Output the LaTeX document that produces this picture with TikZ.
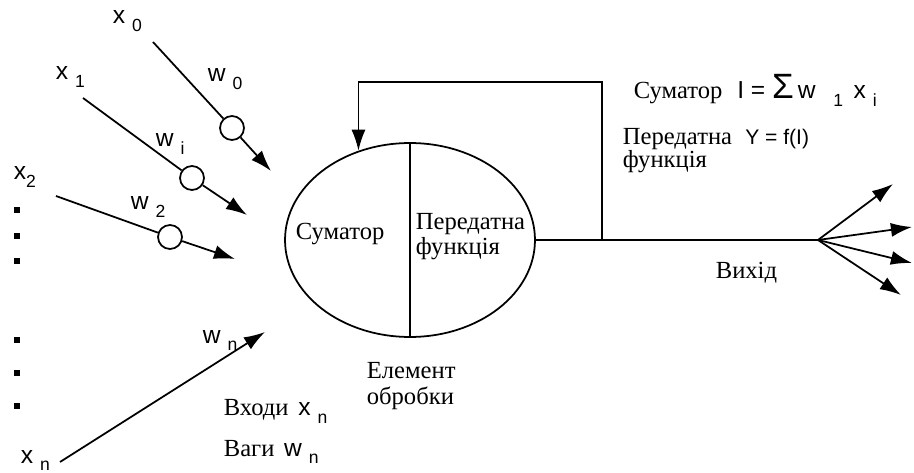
\documentclass[tikz,border=0pt]{standalone}
\usepackage{fontspec}
\setmainfont{Liberation Serif}
\newfontfamily\lblfont{Liberation Sans}
\usetikzlibrary{arrows.meta,shapes.geometric,positioning}
% index label: letter with a dropped index
\newcommand{\idx}[2]{#1\hspace{4pt}\raisebox{-4.5pt}{\fontsize{10}{10}\selectfont #2}}
\tikzset{
  basic/.style  = {inner sep=0pt, anchor=base west},
  word/.style   = {basic, font=\fontsize{14}{16}\selectfont},
  lbl/.style    = {basic, font=\lblfont\fontsize{14}{16}\selectfont},
  weight/.style = {draw, circle, fill=white, line width=1pt, minimum size=0.48cm, inner sep=0pt},
  unit/.style   = {draw, ellipse, line width=1pt, minimum width=5cm, minimum height=3.88cm},
  dotsq/.style  = {fill, rectangle, minimum size=0.11cm, inner sep=0pt}
}

\begin{document}
\begin{tikzpicture}[x=0.02cm, y=-0.02cm, line width=1pt,
  >={Latex[length=12pt,width=8pt]}]
\useasboundingbox (0,0) rectangle (914,473);

% processing element
\node[unit] (pe) at (410,240) {};
\draw (pe.north) -- (pe.south);
\node[word] (sum) at (295,240) {Суматор};
\node[word] (tf1) at (415,230) {Передатна};
\node[word] (tf2) at (415,255) {функція};
\node[word] (el1) at (366,378) {Елемент};
\node[word] (el2) at (366,404) {обробки};

% inputs and weights
\node[lbl] (x0) at (112,24) {\idx{x}{0}};
\node[lbl] (x1) at (55,80) {\idx{x}{1}};
\node[lbl] (x2) at (13,180) {x\raisebox{-4.5pt}{\fontsize{10}{10}\selectfont 2}};
\node[lbl] (xn) at (20,463) {\idx{x}{n}};
\node[lbl] (w0) at (207,82) {\idx{w}{0}};
\node[lbl] (wi) at (155,147) {\idx{w}{i}};
\node[lbl] (w2) at (130,210) {\idx{w}{2}};
\node[lbl] (wn) at (202,343) {\idx{w}{n}};

\node[weight] (c0) at (232,128) {};
\node[weight] (c1) at (192,178) {};
\node[weight] (c2) at (170,237) {};

\coordinate (s0) at (153,42);
\coordinate (s1) at (83,98);
\coordinate (s2) at (56,196);
\coordinate (sn) at (60,462);
\coordinate (t0) at (271,171);
\coordinate (t1) at (247,215);
\coordinate (t2) at (235,259);
\coordinate (tn) at (265,332);

\foreach \value in {0,1,2}
  \draw (s\value) -- (c\value);
\foreach \value in {0,1,2}
  \draw[->] (c\value) -- (t\value);
\draw[->] (sn) -- (tn);

\foreach \y in {210,236,261,340,373,406}
  \node[dotsq] at (17,\y) {};

\node[word] (inp) at (223,416) {Входи \hspace{2pt}{\lblfont\fontsize{14}{16}\selectfont\idx{x}{n}}};
\node[word] (wgt) at (223,456) {Ваги \hspace{2pt}{\lblfont\fontsize{14}{16}\selectfont\idx{w}{n}}};

% output and feedback
\coordinate (fb) at (602,240);
\coordinate (fbtop) at (602,82);
\coordinate (hub) at (818,240);
\draw (pe.east) -- (hub);
\draw[->] (fb) -- (fbtop) -| (pe.120);

\coordinate (out1) at (893,184);
\coordinate (out2) at (912,227);
\coordinate (out3) at (912,263);
\coordinate (out4) at (901,295);
\foreach \value in {1,...,4}
  \draw[->] (hub) -- (out\value);
\node[word] (out) at (715,278) {Вихід};

% formulas
\node[word] (fsum) at (633,99) {Суматор \hspace{5pt}{\lblfont\fontsize{14}{16}\selectfont I = {\fontsize{20}{20}\selectfont Σ}\,\idx{w}{\hspace{6pt}1}\hspace{6pt}\idx{x}{i}}};
\node[word] (ftf1) at (622,145) {Передатна \hspace{4pt}{\lblfont\fontsize{12}{14}\selectfont Y = f(I)}};
\node[word] (ftf2) at (622,168) {функція};
\end{tikzpicture}
\end{document}
